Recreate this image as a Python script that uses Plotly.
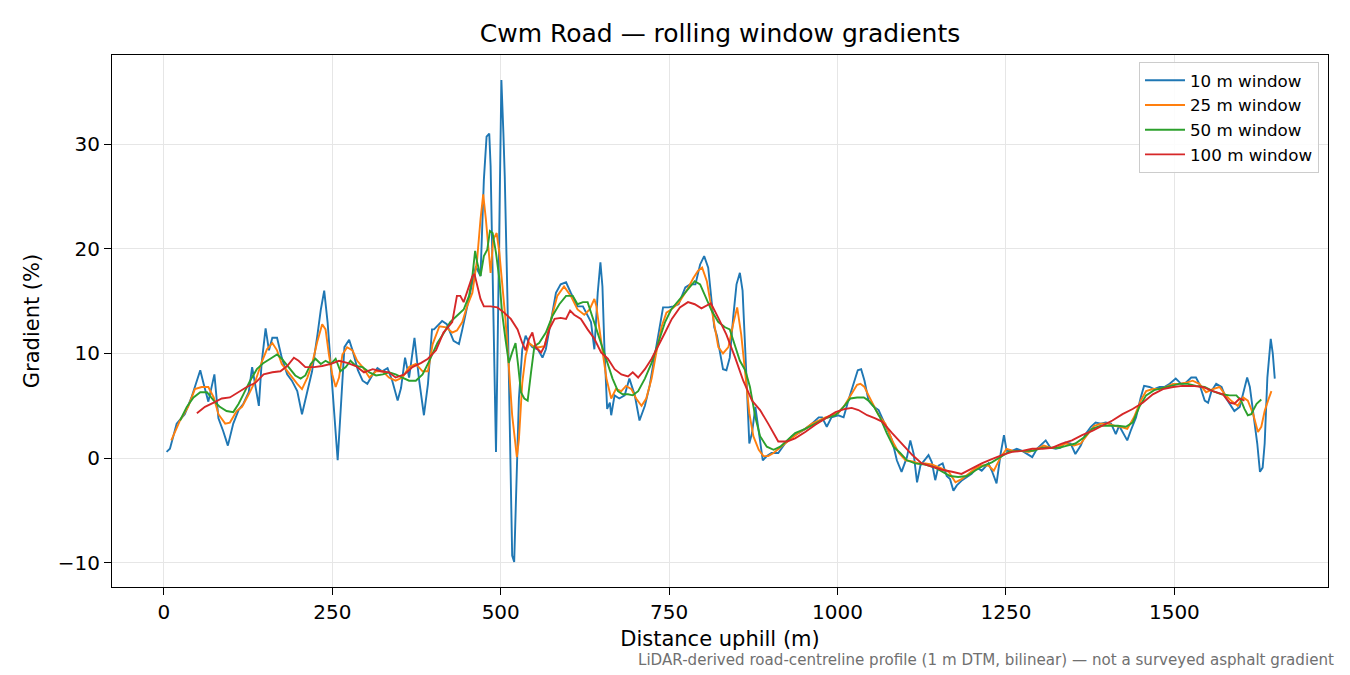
import plotly.graph_objects as go

# distance (m) and gradient (%), one pair of lists per window
d10 = [4, 9, 19, 31, 41, 54, 59, 66, 75, 81, 88, 95, 103, 111, 118, 126, 131, 136, 141, 145,
       151, 156, 161, 168, 175, 183, 190, 198, 205, 213, 220, 228, 233, 238, 243, 248, 253, 258, 263, 268,
       275, 280, 288, 295, 302, 310, 317, 324, 332, 339, 347, 352, 358, 364, 372, 379, 386, 392, 398, 401,
       413, 420, 430, 438, 443, 450, 455, 463, 470, 475, 479, 483, 485, 488, 490, 493, 495, 498, 501, 504,
       506, 510, 514, 517, 520, 522, 527, 532, 537, 542, 547, 555, 562, 567, 575, 582, 589, 597, 604, 614,
       622, 629, 634, 639, 644, 648, 651, 654, 658, 662, 664, 669, 676, 684, 691, 699, 706, 714, 721, 726,
       734, 741, 749, 756, 764, 774, 781, 789, 796, 802, 808, 813, 817, 821, 826, 830, 835, 840, 845, 850,
       855, 859, 863, 867, 869, 873, 878, 884, 889, 895, 902, 912, 922, 932, 942, 952, 962, 972, 977, 984,
       991, 1001, 1009, 1016, 1024, 1030, 1035, 1040, 1046, 1054, 1061, 1068, 1076, 1081, 1088, 1095, 1103, 1108, 1113, 1118,
       1123, 1129, 1135, 1140, 1145, 1150, 1156, 1162, 1167, 1172, 1177, 1185, 1192, 1199, 1207, 1214, 1224, 1229, 1236, 1242,
       1247, 1251, 1259, 1266, 1274, 1281, 1289, 1296, 1304, 1309, 1316, 1324, 1331, 1338, 1346, 1353, 1361, 1368, 1376, 1383,
       1391, 1398, 1406, 1413, 1418, 1425, 1430, 1435, 1443, 1450, 1455, 1463, 1470, 1478, 1485, 1493, 1502, 1510, 1517, 1525,
       1532, 1537, 1545, 1550, 1555, 1562, 1570, 1576, 1582, 1589, 1597, 1602, 1608, 1612, 1618, 1623, 1627, 1631, 1634, 1638,
       1643, 1646, 1649]
g10 = [0.6, 0.9, 3.3, 4.2, 5.8, 8.4, 7.1, 5.4, 8.0, 3.8, 2.6, 1.2, 3.3, 4.6, 5.2, 6.3, 8.7, 6.8, 5.0, 9.0,
       12.4, 10.3, 11.5, 11.5, 9.6, 8.0, 7.4, 6.4, 4.2, 6.4, 8.3, 11.8, 14.2, 16.0, 13.0, 8.6, 4.5, -0.2, 5.2, 10.6,
       11.3, 10.3, 8.4, 7.4, 7.1, 8.0, 8.6, 8.3, 8.6, 7.4, 5.5, 6.7, 9.6, 7.7, 11.5, 7.4, 4.1, 7.1, 12.3, 12.3,
       13.1, 12.8, 11.2, 10.9, 12.3, 14.5, 16.1, 18.3, 17.4, 26.6, 30.7, 31.0, 27.9, 18.3, 8.8, 0.6, 8.8, 21.5, 36.1, 31.0,
       26.9, 15.2, 0.9, -9.3, -9.9, -5.5, 5.7, 10.4, 11.7, 11.0, 10.6, 10.4, 9.6, 10.4, 13.3, 15.8, 16.6, 16.8, 15.8, 14.5,
       14.5, 13.7, 13.0, 10.4, 15.8, 18.7, 16.4, 10.4, 4.7, 5.3, 4.1, 6.0, 5.7, 6.0, 7.6, 6.0, 3.6, 5.0, 6.9, 8.8,
       12.0, 14.4, 14.4, 14.5, 14.7, 16.3, 16.6, 16.6, 18.5, 19.3, 18.2, 15.3, 12.5, 11.7, 10.0, 8.5, 8.4, 9.6, 13.4, 16.6,
       17.7, 16.0, 10.3, 4.9, 1.4, 2.4, 4.9, 2.1, -0.2, 0.2, 0.5, 0.5, 1.4, 2.1, 2.4, 2.8, 3.3, 3.9, 3.9, 3.0,
       3.9, 4.1, 3.9, 5.5, 7.1, 8.4, 8.5, 7.4, 5.5, 4.9, 4.6, 3.6, 2.4, 1.7, -0.2, -1.3, 0.1, 1.7, 0.4, -2.3,
       -0.7, -0.2, 0.3, -0.4, -2.1, -0.7, -0.5, -1.7, -2.0, -3.1, -2.6, -2.1, -1.8, -1.5, -0.9, -1.2, -0.5, -1.2, -2.4, 0.4,
       2.2, 0.7, 0.7, 0.9, 0.7, 0.4, 0.1, 0.9, 1.4, 1.7, 1.0, 0.9, 1.0, 1.5, 1.4, 0.4, 1.2, 2.3, 3.0, 3.4,
       3.3, 3.4, 3.3, 2.3, 3.1, 2.3, 1.7, 2.6, 3.9, 5.8, 6.9, 6.8, 6.6, 6.8, 6.8, 7.1, 7.6, 7.1, 7.2, 7.7,
       7.7, 7.1, 5.5, 5.3, 6.4, 7.1, 6.8, 5.8, 5.2, 4.5, 4.9, 6.1, 7.7, 6.8, 3.9, 1.4, -1.3, -0.9, 1.4, 7.7,
       11.4, 10.0, 7.6]

d25 = [11, 24, 36, 46, 56, 66, 74, 81, 91, 98, 108, 116, 126, 136, 146, 153, 161, 168, 175, 183,
       190, 198, 205, 213, 220, 228, 235, 240, 245, 250, 255, 260, 265, 272, 280, 287, 295, 305, 315, 325,
       334, 344, 354, 364, 374, 384, 392, 399, 409, 419, 428, 435, 443, 450, 458, 465, 470, 474, 478, 483,
       485, 489, 494, 498, 502, 507, 512, 517, 524, 527, 532, 537, 542, 550, 557, 565, 575, 584, 594, 604,
       614, 624, 632, 639, 642, 647, 652, 657, 664, 671, 679, 686, 694, 701, 709, 716, 724, 731, 739, 746,
       753, 764, 776, 786, 793, 799, 806, 811, 816, 823, 830, 838, 845, 851, 857, 863, 869, 875, 883, 890,
       897, 905, 912, 922, 932, 942, 952, 962, 972, 982, 992, 1001, 1011, 1021, 1029, 1034, 1040, 1046, 1054, 1061,
       1071, 1081, 1091, 1101, 1111, 1120, 1130, 1140, 1155, 1165, 1175, 1184, 1194, 1204, 1214, 1224, 1232, 1242, 1251, 1261,
       1271, 1284, 1296, 1306, 1316, 1326, 1338, 1351, 1361, 1371, 1381, 1391, 1401, 1411, 1420, 1430, 1440, 1450, 1458, 1468,
       1478, 1488, 1498, 1507, 1517, 1527, 1537, 1547, 1557, 1567, 1575, 1584, 1594, 1602, 1609, 1617, 1624, 1629, 1634, 1639,
       1644]
g25 = [1.7, 3.6, 4.9, 6.6, 6.8, 6.8, 5.8, 4.2, 3.3, 3.4, 4.5, 4.9, 6.1, 7.4, 9.3, 10.4, 11.0, 10.3, 9.0, 8.3,
       7.7, 7.1, 6.6, 7.7, 9.0, 11.2, 12.8, 12.3, 9.9, 8.0, 6.8, 7.7, 9.9, 10.6, 10.3, 9.3, 8.7, 7.7, 8.3, 8.3,
       7.7, 7.4, 7.7, 8.7, 9.0, 8.3, 8.3, 10.9, 12.6, 12.5, 12.0, 12.2, 13.0, 14.5, 15.8, 19.0, 22.8, 25.2, 22.8, 19.0,
       17.7, 20.9, 21.5, 19.6, 16.8, 13.3, 8.8, 4.1, 0.1, 1.8, 7.2, 9.8, 11.0, 10.6, 10.6, 10.7, 13.3, 15.5, 16.4, 15.5,
       14.2, 13.7, 14.2, 15.2, 14.5, 12.0, 9.8, 7.6, 5.7, 6.6, 6.4, 6.9, 6.6, 5.7, 5.0, 5.7, 7.6, 10.1, 12.6, 13.9,
       14.2, 14.8, 16.0, 17.2, 17.9, 18.2, 16.9, 15.0, 13.1, 10.6, 10.0, 10.6, 12.8, 14.4, 11.8, 8.1, 4.3, 2.1, 0.8, 0.2,
       0.2, 0.5, 0.9, 1.4, 1.9, 2.4, 2.8, 3.3, 3.6, 3.9, 4.1, 4.3, 5.1, 6.2, 7.0, 7.1, 6.8, 6.0, 4.9, 4.1,
       3.3, 1.7, 0.5, -0.2, -0.3, -0.5, -0.5, -0.6, -1.0, -1.3, -2.3, -2.0, -1.5, -1.0, -0.7, -0.7, -1.2, 0.1, 0.9, 0.7,
       0.7, 0.6, 0.9, 1.2, 1.0, 1.0, 1.4, 1.2, 1.4, 2.3, 3.1, 3.3, 3.3, 3.1, 3.0, 2.8, 3.9, 5.5, 6.4, 6.6,
       6.6, 6.8, 7.1, 7.1, 7.2, 7.4, 7.1, 6.3, 6.6, 6.8, 6.1, 5.5, 5.0, 5.8, 5.5, 4.2, 2.5, 3.0, 4.5, 5.5,
       6.4]

d50 = [24, 34, 44, 54, 64, 74, 83, 93, 103, 111, 118, 128, 138, 148, 158, 168, 175, 185, 195, 203,
       210, 218, 225, 233, 240, 248, 255, 262, 270, 277, 285, 295, 305, 315, 325, 334, 344, 354, 364, 374,
       384, 394, 406, 416, 425, 435, 445, 453, 458, 462, 465, 470, 475, 480, 484, 488, 493, 498, 502, 507,
       512, 517, 522, 526, 530, 535, 540, 545, 550, 557, 567, 577, 587, 597, 607, 614, 622, 629, 637, 644,
       652, 659, 666, 674, 681, 689, 696, 704, 714, 724, 734, 744, 753, 766, 778, 788, 796, 803, 813, 823,
       833, 840, 848, 855, 863, 870, 878, 885, 895, 905, 915, 925, 937, 952, 967, 982, 997, 1009, 1019, 1029,
       1039, 1046, 1054, 1063, 1073, 1083, 1093, 1103, 1115, 1130, 1145, 1155, 1167, 1179, 1192, 1204, 1217, 1229, 1242, 1254,
       1266, 1279, 1291, 1304, 1316, 1329, 1341, 1353, 1366, 1378, 1391, 1403, 1416, 1428, 1438, 1448, 1458, 1470, 1483, 1495,
       1507, 1520, 1532, 1545, 1557, 1570, 1582, 1592, 1599, 1604, 1609, 1614, 1622, 1629]
g50 = [3.6, 4.9, 5.8, 6.3, 6.3, 5.5, 4.9, 4.5, 4.4, 5.2, 6.1, 7.4, 8.5, 9.1, 9.5, 9.9, 9.5, 8.7, 7.9, 7.6,
       7.9, 9.0, 9.5, 9.0, 9.3, 9.0, 9.5, 8.3, 8.7, 9.3, 8.8, 8.7, 8.2, 7.9, 8.0, 8.2, 8.0, 7.7, 7.4, 7.4,
       8.0, 9.3, 11.0, 12.0, 13.0, 13.6, 14.2, 15.5, 17.4, 19.8, 18.7, 17.4, 19.3, 19.9, 21.7, 21.5, 19.6, 17.1, 13.9, 11.4,
       9.1, 10.1, 11.0, 8.8, 6.3, 5.7, 5.5, 8.2, 10.7, 11.0, 12.0, 13.6, 14.7, 15.5, 15.5, 14.7, 14.9, 14.9, 13.3, 12.0,
       10.4, 8.8, 7.6, 6.4, 6.1, 6.1, 6.0, 6.4, 7.6, 9.1, 11.0, 13.0, 14.2, 15.2, 16.1, 16.9, 16.6, 15.6, 14.1, 13.0,
       12.5, 12.3, 10.6, 9.3, 8.4, 6.8, 3.9, 2.1, 1.1, 0.8, 1.1, 1.7, 2.4, 2.8, 3.3, 3.8, 4.1, 4.9, 5.7, 5.8,
       5.8, 5.5, 4.9, 3.9, 2.4, 1.1, 0.5, -0.2, -0.5, -0.6, -0.9, -1.3, -1.7, -1.8, -1.7, -1.2, -0.7, -0.4, 0.1, 0.6,
       0.7, 0.7, 0.7, 1.0, 1.0, 1.0, 1.2, 1.4, 2.0, 2.8, 3.1, 3.1, 3.1, 3.0, 3.4, 4.9, 6.0, 6.5, 6.7, 6.9,
       7.1, 7.1, 6.9, 6.8, 6.4, 6.1, 6.0, 6.0, 5.5, 4.7, 4.1, 4.2, 5.2, 5.6]

d100 = [49, 61, 74, 86, 98, 111, 123, 136, 148, 161, 173, 183, 193, 200, 210, 223, 235, 248, 260, 272,
        285, 297, 310, 322, 334, 344, 357, 369, 382, 392, 404, 415, 428, 435, 440, 445, 450, 458, 461, 465,
        470, 475, 485, 495, 505, 515, 525, 532, 537, 542, 547, 552, 560, 565, 572, 580, 589, 597, 603, 609,
        619, 629, 639, 649, 659, 669, 679, 689, 696, 704, 714, 724, 734, 744, 754, 766, 778, 788, 798, 812,
        823, 835, 848, 860, 873, 885, 897, 912, 925, 937, 952, 967, 982, 997, 1011, 1021, 1031, 1044, 1056, 1066,
        1081, 1096, 1111, 1125, 1140, 1155, 1170, 1184, 1199, 1214, 1229, 1244, 1259, 1274, 1289, 1304, 1319, 1333, 1348, 1363,
        1378, 1393, 1408, 1423, 1438, 1453, 1468, 1483, 1498, 1512, 1527, 1542, 1557, 1572, 1582, 1589, 1597, 1604]
g100 = [4.3, 4.9, 5.3, 5.7, 5.8, 6.3, 6.8, 7.2, 8.0, 8.2, 8.3, 8.8, 9.6, 9.3, 8.7, 8.7, 8.8, 9.0, 9.3, 9.1,
        8.8, 8.2, 8.5, 8.3, 8.2, 7.7, 8.0, 8.7, 9.1, 9.5, 10.3, 12.0, 13.0, 15.5, 15.5, 14.9, 15.8, 17.4, 17.6, 16.4,
        15.2, 14.5, 14.5, 14.4, 13.9, 13.3, 12.3, 11.0, 10.3, 11.4, 12.0, 10.6, 10.1, 10.7, 12.3, 13.3, 13.4, 13.3, 14.1, 13.7,
        13.3, 12.3, 11.4, 10.1, 9.5, 8.5, 8.0, 7.8, 8.2, 7.7, 8.5, 9.5, 10.7, 12.0, 13.3, 14.4, 14.9, 14.7, 14.3, 14.8,
        13.4, 11.8, 9.6, 7.4, 5.5, 4.6, 3.3, 1.6, 1.6, 1.9, 2.5, 3.2, 3.8, 4.4, 4.7, 4.8, 4.6, 4.1, 3.8, 3.5,
        2.4, 1.3, 0.3, -0.5, -0.8, -1.1, -1.3, -1.5, -1.0, -0.5, -0.1, 0.3, 0.6, 0.7, 0.9, 0.9, 1.0, 1.4, 1.7, 2.2,
        2.6, 3.1, 3.6, 4.2, 4.7, 5.3, 6.1, 6.6, 6.8, 6.9, 6.9, 6.8, 6.4, 6.1, 5.3, 5.2, 5.7, 5.5]

xticks = [0, 250, 500, 750, 1000, 1250, 1500]
yticks = [-10, 0, 10, 20, 30]

FONT = "DejaVu Sans"

# the page body has an 8 px margin, so the figure is a little smaller than the window
W, H = 1342, 667

fig = go.Figure()
fig.add_trace(go.Scatter(x=d10, y=g10, mode="lines", name="10 m window",
                         line=dict(color="#1f77b4", width=1.9)))
fig.add_trace(go.Scatter(x=d25, y=g25, mode="lines", name="25 m window",
                         line=dict(color="#ff7f0e", width=1.9)))
fig.add_trace(go.Scatter(x=d50, y=g50, mode="lines", name="50 m window",
                         line=dict(color="#2ca02c", width=1.9)))
fig.add_trace(go.Scatter(x=d100, y=g100, mode="lines", name="100 m window",
                         line=dict(color="#d62728", width=1.9)))

axis_common = dict(showline=True, linecolor="black", linewidth=1.2, mirror=True,
                   ticks="outside", ticklen=7, tickcolor="black", tickwidth=1.2,
                   showgrid=True, gridcolor="#e6e6e6", gridwidth=1.2, zeroline=False,
                   tickfont=dict(family=FONT, size=20, color="black"))

fig.update_layout(
    width=W, height=H,
    margin=dict(l=104, r=22, t=47, b=88),
    plot_bgcolor="white", paper_bgcolor="white",
    font=dict(family=FONT, color="black"),
    title=dict(text="Cwm Road — rolling window gradients", x=0.5, xanchor="center", xref="paper",
               y=1 - 25 / H, yanchor="middle", yref="container",
               font=dict(family=FONT, size=25, color="black")),
    xaxis=dict(range=[-77, 1728], tickvals=xticks,
               title=dict(text="Distance uphill (m)", standoff=8,
                          font=dict(family=FONT, size=21)), **axis_common),
    yaxis=dict(range=[-12.3, 38.5], tickvals=yticks,
               title=dict(text="Gradient (%)", standoff=12,
                          font=dict(family=FONT, size=21)), **axis_common),
    legend=dict(x=0.9926, y=0.987, xanchor="right", yanchor="top", itemwidth=40,
                bgcolor="rgba(255,255,255,0.85)", bordercolor="#cccccc", borderwidth=1,
                font=dict(family=FONT, size=16.7, color="black")),
    showlegend=True,
)

fig.add_annotation(text="LiDAR-derived road-centreline profile (1 m DTM, bilinear) — not a surveyed asphalt gradient",
                   xref="paper", yref="paper", x=(1336 - 112) / 1216, y=-(660 - 587) / 532,
                   xanchor="right", yanchor="middle", showarrow=False,
                   font=dict(family=FONT, size=15.1, color="#707070"))

fig.write_html("out.html")
